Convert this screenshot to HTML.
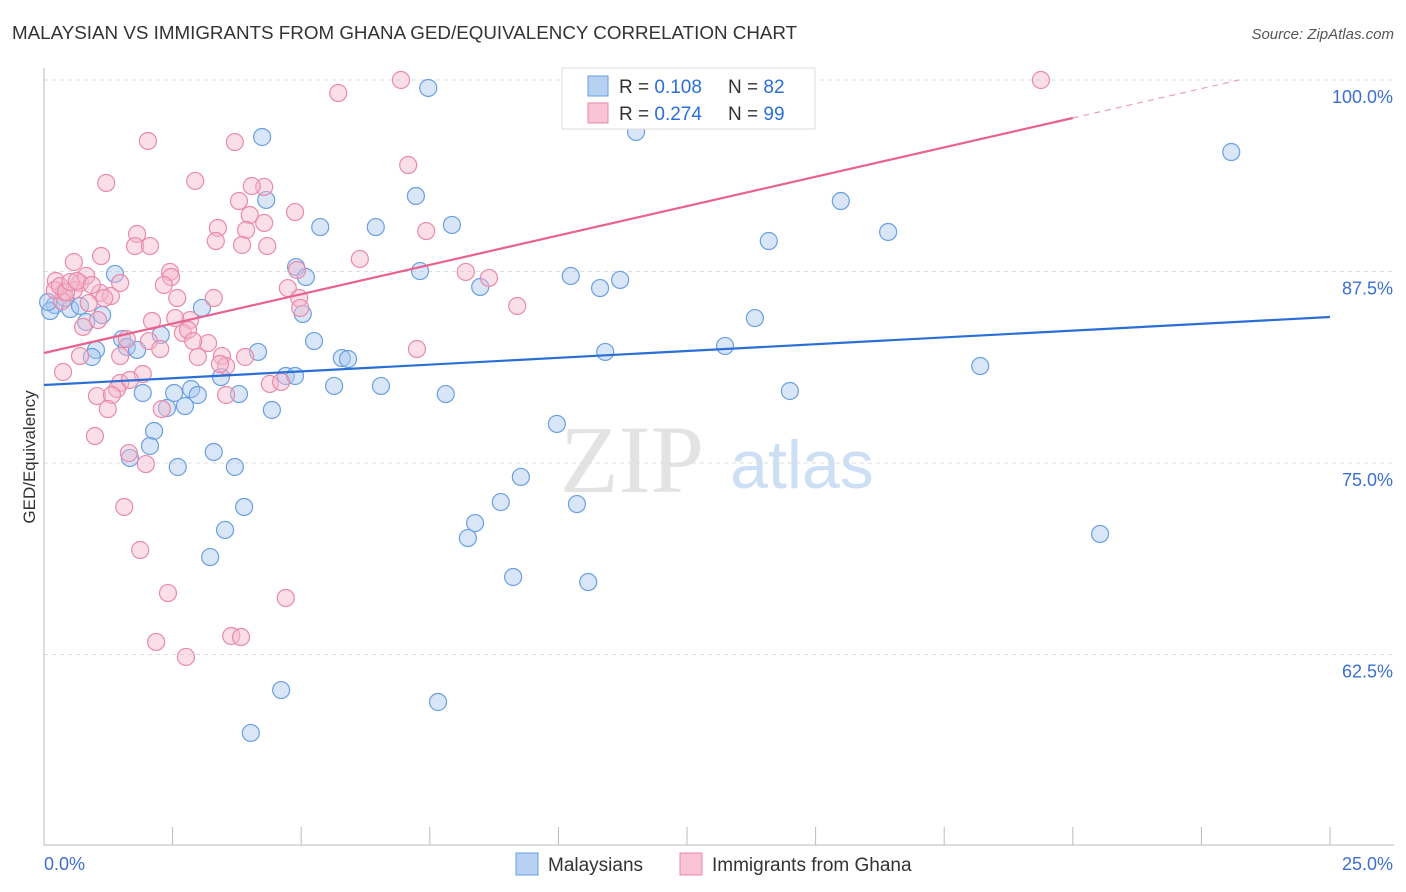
<!DOCTYPE html>
<html><head><meta charset="utf-8"><style>
body{margin:0;background:#fff;font-family:"Liberation Sans",sans-serif;}
#wrap{position:relative;width:1406px;height:892px;overflow:hidden;}
</style></head><body>
<div id="wrap">
<svg id="chart" width="1406" height="892" xmlns="http://www.w3.org/2000/svg">
<text x="12" y="39" font-size="18.8" fill="#333">MALAYSIAN VS IMMIGRANTS FROM GHANA GED/EQUIVALENCY CORRELATION CHART</text>
<text x="1394" y="39" font-size="15" fill="#555" font-style="italic" text-anchor="end">Source: ZipAtlas.com</text>
<text transform="translate(35,457) rotate(-90)" font-size="17" fill="#333" text-anchor="middle">GED/Equivalency</text>
<g>
<text x="632" y="492" font-size="96" fill="#e3e3e3" font-family="Liberation Serif,serif" text-anchor="middle">ZIP</text>
<text x="802" y="488" font-size="68" fill="#cddff5" text-anchor="middle">atlas</text>
</g>
<g id="grid"></g><g id="axes"></g><g id="pts"></g><g id="lines"></g>
<g>
<rect x="562" y="68" width="253" height="61" fill="#fff" stroke="#ddd"/>
<rect x="588" y="76" width="20" height="20" fill="#b7d1f3" stroke="#6a9fe0"/>
<rect x="588" y="103" width="20" height="20" fill="#f8c3d5" stroke="#e98aaa"/>
<text x="619" y="93" font-size="19" fill="#333">R = <tspan fill="#2a6fd6">0.108</tspan></text>
<text x="728" y="93" font-size="19" fill="#333">N = <tspan fill="#2a6fd6">82</tspan></text>
<text x="619" y="120" font-size="19" fill="#333">R = <tspan fill="#2a6fd6">0.274</tspan></text>
<text x="728" y="120" font-size="19" fill="#333">N = <tspan fill="#2a6fd6">99</tspan></text>
</g>
<g>
<rect x="516" y="853" width="22" height="22" fill="#b7d1f3" stroke="#6a9fe0"/>
<text x="548" y="871" font-size="19" fill="#333">Malaysians</text>
<rect x="680" y="853" width="22" height="22" fill="#f8c3d5" stroke="#e98aaa"/>
<text x="712" y="871" font-size="19" fill="#333">Immigrants from Ghana</text>
</g>
</svg>
</div>
<script>
const xTicks=[0,2.5,5,7.5,10,12.5,15,17.5,20,22.5,25];
const yTicks=[62.5,75,87.5,100];
const yTickLabels=["62.5%","75.0%","87.5%","100.0%"];
const xEndLabels=["0.0%","25.0%"];
const blueX=[7.47,4.24,11.51,23.08,4.32,7.23,5.37,6.45,7.93,15.49,16.41,14.09,4.9,5.09,7.31,10.24,10.81,11.2,8.48,1.38,0.21,0.51,0.7,1.13,0.82,3.07,5.03,2.27,1.52,1.61,1.81,1.01,0.93,5.25,4.16,5.79,5.91,10.91,13.24,13.82,18.2,3.44,4.7,4.88,5.64,6.55,7.81,14.5,1.92,2.53,2.86,2.99,3.79,2.39,2.74,4.43,2.14,2.06,1.67,2.6,3.3,3.71,3.89,3.52,3.23,9.97,9.27,8.88,8.38,8.24,10.36,9.12,10.58,20.53,4.61,7.66,4.02,0.12,0.08,0.41];
const blueY=[99.48,96.28,96.61,95.3,92.17,92.43,90.4,90.4,90.54,92.1,90.08,89.49,87.79,87.14,87.53,87.21,86.42,86.95,86.49,87.34,85.31,85.05,85.25,84.66,84.2,85.12,84.73,83.36,83.09,82.57,82.38,82.38,81.92,82.96,82.25,81.85,81.79,82.25,82.64,84.46,81.33,80.61,80.68,80.68,80.03,80.03,79.5,79.7,79.57,79.57,79.83,79.44,79.5,78.59,78.72,78.46,77.09,76.11,75.33,74.74,75.72,74.74,72.13,70.63,68.86,77.55,74.09,72.45,71.08,70.1,72.32,67.56,67.23,70.37,60.18,59.4,57.38,84.92,85.51,85.77];
const pinkX=[6.94,19.38,5.72,2.02,3.71,1.21,2.94,4.28,4.04,3.79,4.88,7.08,4.0,4.28,3.38,3.93,1.81,3.34,1.77,2.06,3.85,4.34,1.11,0.58,0.23,0.7,0.82,0.39,0.58,1.09,1.3,1.17,1.48,2.45,2.47,4.92,4.74,4.96,6.14,7.43,8.2,8.65,9.2,2.59,3.3,0.35,0.21,0.87,2.1,0.76,1.05,2.84,2.7,3.19,1.61,2.04,2.26,0.7,1.48,2.8,3.46,3.54,3.91,2.99,7.25,0.37,1.92,1.48,1.42,1.03,1.32,3.54,4.39,2.29,1.24,0.99,1.65,1.98,1.56,1.87,2.41,4.7,2.18,2.76,3.64,3.83,4.61,4.98,2.9,0.31,0.43,0.51,3.42,1.67,2.33,2.55,0.64,0.93];
const pinkY=[100,100,99.15,96.02,95.95,93.28,93.41,93.02,93.08,92.1,91.38,94.45,91.19,90.67,90.34,90.21,89.95,89.49,89.16,89.16,89.23,89.16,88.51,88.12,86.88,86.75,87.21,86.16,86.29,86.1,85.9,85.77,86.75,87.47,87.14,87.6,86.42,85.77,88.32,90.14,87.47,87.08,85.25,85.77,85.77,85.57,86.29,85.44,84.27,83.88,84.33,84.33,83.49,82.83,83.09,82.96,82.44,81.98,81.98,83.68,81.98,81.33,81.92,81.92,82.44,80.94,80.81,80.22,79.83,79.37,79.44,79.44,80.16,78.52,78.52,76.76,75.65,74.93,72.13,69.32,66.51,66.19,63.32,62.34,63.71,63.64,80.29,85.12,82.96,86.55,86.16,86.81,81.46,80.42,86.62,84.46,86.88,86.62];
const blueFit=[80.09,0.1776];
const pinkFit=[82.18,0.767];
const NS="http://www.w3.org/2000/svg";
const X0=44,X1=1330,YTOP=80,YSCALE=15.32,YBOT=845;
function sx(v){return X0+(v/25)*(X1-X0);}
function sy(v){return YTOP+(100-v)*YSCALE;}
function mk(tag,attrs,parent){const e=document.createElementNS(NS,tag);for(const k in attrs)e.setAttribute(k,attrs[k]);parent.appendChild(e);return e;}
const grid=document.getElementById('grid'),axes=document.getElementById('axes'),pts=document.getElementById('pts'),lines=document.getElementById('lines');
yTicks.forEach((t,i)=>{
 const g=mk('line',{x1:X0,x2:1394,y1:sy(t),y2:sy(t),stroke:'#ddd','stroke-dasharray':'4,4'},grid);
 
 
 const l=mk('text',{x:1393,y:sy(t)+23,'font-size':18,fill:'#3b6fd0','text-anchor':'end'},axes);
 l.textContent=yTickLabels[i];
 
 
});
const ax=mk('line',{x1:X0,x2:X0,y1:68,y2:YBOT,stroke:'#bbb'},axes);


const bx=mk('line',{x1:X0,x2:1394,y1:YBOT,y2:YBOT,stroke:'#bbb'},axes);


xTicks.forEach(t=>{
 const tk=mk('line',{x1:sx(t),x2:sx(t),y1:YBOT-18,y2:YBOT,stroke:'#bbb'},axes);
 
 
});
[[0,'start'],[25,'end']].forEach((p,i)=>{
 const l=mk('text',{x:i?1393:44,y:870,'font-size':18,fill:'#3b6fd0','text-anchor':p[1]},axes);
 l.textContent=xEndLabels[i];
 
 
});
function drawPts(xs,ys,fill,stroke,name){
 xs.forEach((x,i)=>{
  const c=mk('circle',{cx:sx(x),cy:sy(ys[i]),r:8.5,fill:fill,'fill-opacity':0.45,stroke:stroke,'stroke-width':1.2},pts);
  
  
 });
}
drawPts(blueX,blueY,'#a9c8f0','#6a9fe0','malaysian-point');
drawPts(pinkX,pinkY,'#f5b8cc','#e98aaa','ghana-point');
const bl=mk('line',{x1:sx(0),y1:sy(blueFit[0]),x2:sx(25),y2:sy(blueFit[0]+25*blueFit[1]),stroke:'#2a6fd6','stroke-width':2.2},lines);


const pEnd=20,pMax=(100-pinkFit[0])/pinkFit[1];
const pl=mk('line',{x1:sx(0),y1:sy(pinkFit[0]),x2:sx(pEnd),y2:sy(pinkFit[0]+pEnd*pinkFit[1]),stroke:'#e8628f','stroke-width':2.2},lines);


const pd=mk('line',{x1:sx(pEnd),y1:sy(pinkFit[0]+pEnd*pinkFit[1]),x2:sx(pMax),y2:sy(100),stroke:'#e8a0b8','stroke-width':1.2,'stroke-dasharray':'6,5'},lines);


</script>
</body></html>
